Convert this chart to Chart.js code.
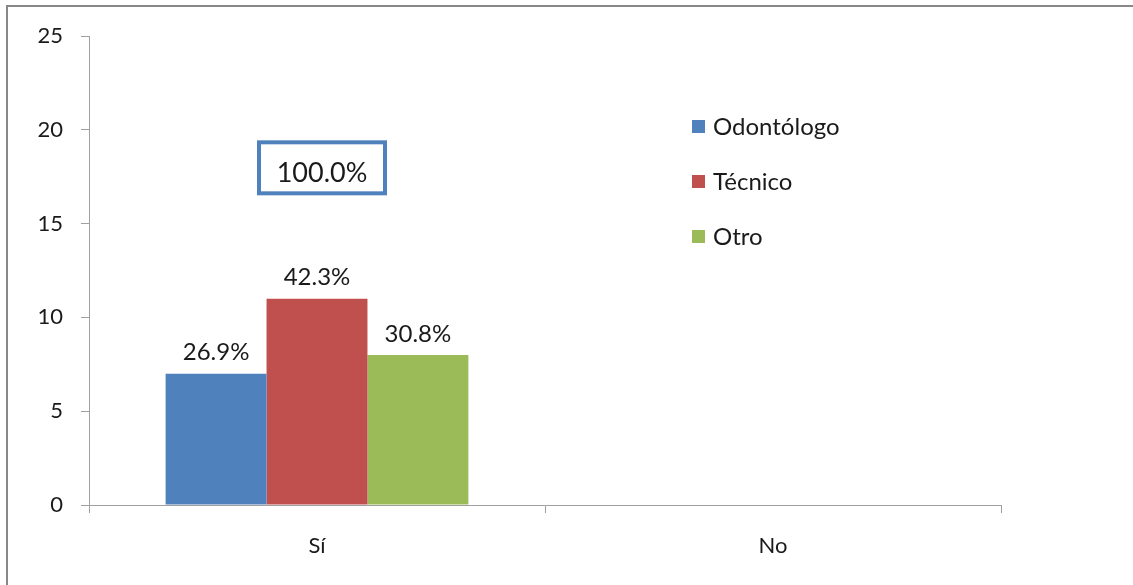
<!DOCTYPE html>
<html>
<head>
<meta charset="utf-8">
<script src="https://cdn.jsdelivr.net/npm/chart.js@4"></script>
<style>
  html, body { margin: 0; padding: 0; background: #fff; overflow: hidden; }
  #marco { position: absolute; left: 6px; top: 5px; width: 1300px; height: 800px; border: 2px solid #888; pointer-events: none; }
  #grafico { position: absolute; left: 0; top: 0; }
</style>
</head>
<body>
<canvas id="grafico" width="1133" height="585"></canvas>
<div id="marco"></div>
<script>
// Datos del gráfico
const categorias = ['Sí', 'No'];
const odontologo = [7, 0];
const tecnico = [11, 0];
const otro = [8, 0];
// Porcentajes mostrados sobre las barras
const etiquetasOdontologo = ['26.9%', ''];
const etiquetasTecnico = ['42.3%', ''];
const etiquetasOtro = ['30.8%', ''];
const etiquetaTotal = '100.0%';
const ticksY = [0, 5, 10, 15, 20, 25];

const colores = ['#4f81bd', '#c0504d', '#9bbb59'];
const etiquetas = [etiquetasOdontologo, etiquetasTecnico, etiquetasOtro];
const colorTexto = '#1a1a1a';
const colorEje = '#a0a0a0';

// Plugin: porcentajes, caja del total y leyenda
const extrasPlugin = {
    id: 'extras',
    afterDatasetsDraw(chart) {
        const ctx = chart.ctx;
        ctx.save();
        ctx.fillStyle = colorTexto;
        ctx.textAlign = 'center';
        ctx.textBaseline = 'middle';
        ctx.font = '24px Lato';
        chart.data.datasets.forEach((ds, i) => {
            chart.getDatasetMeta(i).data.forEach((bar, j) => {
                const txt = etiquetas[i][j];
                if (txt) ctx.fillText(txt, bar.x, bar.y - 21);
            });
        });

        // caja con el total
        const cx = chart.scales.x.getPixelForValue(0) + 5;
        const cy = chart.scales.y.getPixelForValue(18);
        ctx.strokeStyle = '#4f81bd';
        ctx.lineWidth = 4;
        ctx.strokeRect(cx - 63, cy - 25, 126, 51);
        ctx.font = '27px Lato';
        ctx.fillText(etiquetaTotal, cx, cy + 6);

        // leyenda
        ctx.textAlign = 'left';
        ctx.font = '24px Lato';
        chart.data.datasets.forEach((ds, i) => {
            const y = 127 + i * 55;
            ctx.fillStyle = ds.backgroundColor;
            ctx.fillRect(692, y - 7, 13, 13);
            ctx.fillStyle = colorTexto;
            ctx.fillText(ds.label, 713, y);
        });
        ctx.restore();
    }
};

function crearGrafico() {
    const ctx = document.getElementById('grafico').getContext('2d');
    new Chart(ctx, {
        type: 'bar',
        data: {
            labels: categorias,
            datasets: [
                { label: 'Odontólogo', data: odontologo, backgroundColor: colores[0] },
                { label: 'Técnico', data: tecnico, backgroundColor: colores[1] },
                { label: 'Otro', data: otro, backgroundColor: colores[2] }
            ]
        },
        options: {
            responsive: false,
            devicePixelRatio: 1,
            animation: false,
            layout: { padding: { left: 0, right: 132, top: 36, bottom: 0 } },
            datasets: {
                bar: { categoryPercentage: 0.664, barPercentage: 1, borderWidth: 0 }
            },
            plugins: {
                legend: { display: false },
                tooltip: { enabled: false }
            },
            scales: {
                x: {
                    grid: { display: true, drawOnChartArea: false, tickLength: 8, color: colorEje, offset: true },
                    border: { color: colorEje, width: 1 },
                    ticks: { color: colorTexto, font: { family: 'Lato', size: 22 }, padding: 20 },
                    afterFit: (scale) => { scale.height = 80; }
                },
                y: {
                    min: 0,
                    max: 25,
                    afterBuildTicks: (scale) => { scale.ticks = ticksY.map(v => ({ value: v })); },
                    grid: { display: true, drawOnChartArea: false, tickLength: 8, color: colorEje },
                    border: { color: colorEje, width: 1 },
                    ticks: { color: colorTexto, font: { family: 'Lato', size: 22 }, padding: 18 },
                    afterFit: (scale) => { scale.width = 89; }
                }
            }
        },
        plugins: [extrasPlugin]
    });
}

document.fonts.load('24px Lato').then(crearGrafico, crearGrafico);
</script>
</body>
</html>
